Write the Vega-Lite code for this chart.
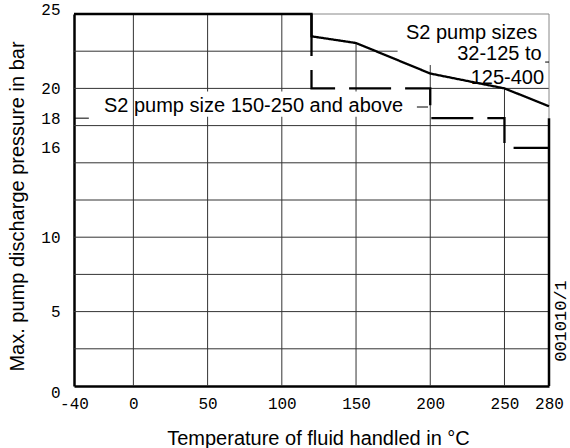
{
  "$schema": "https://vega.github.io/schema/vega-lite/v6.json",
  "autosize": "none",
  "width": 475,
  "height": 372,
  "padding": {"left": 74, "top": 14, "right": 21, "bottom": 62},
  "config": {
    "view": {"stroke": null},
    "axis": {"grid": false},
    "font": "Liberation Sans"
  },
  "datasets": {
    "hgrid": [
      {"y": 2.5, "x": -40, "x2": 280},
      {"y": 5, "x": -40, "x2": 280},
      {"y": 7.5, "x": -40, "x2": 280},
      {"y": 10, "x": -40, "x2": 280},
      {"y": 12.5, "x": -40, "x2": 280},
      {"y": 15, "x": -40, "x2": 280},
      {"y": 17.5, "x": -40, "x2": 280},
      {"y": 20, "x": -40, "x2": 120},
      {"y": 20, "x": 200, "x2": 280},
      {"y": 22.5, "x": -40, "x2": 178}
    ],
    "vgrid": [
      {"x": 0, "y": 0, "y2": 25},
      {"x": 50, "y": 0, "y2": 25},
      {"x": 100, "y": 0, "y2": 25},
      {"x": 150, "y": 0, "y2": 23.05},
      {"x": 200, "y": 0, "y2": 21.57},
      {"x": 250, "y": 0, "y2": 20}
    ],
    "grayTop": [{"y": 25, "x": 120, "x2": 280}],
    "grayRight": [{"x": 280, "y": 18, "y2": 25}],
    "blackRight": [{"x": 280, "y": 0, "y2": 18}],
    "mask": [{"x": 3, "x2": 188, "y": 18.1, "y2": 19.8}],
    "curves": [
      {"series": "S2 pump sizes 32-125 to 125-400", "i": 1, "x": -40, "y": 25},
      {"series": "S2 pump sizes 32-125 to 125-400", "i": 2, "x": 120, "y": 25},
      {"series": "S2 pump sizes 32-125 to 125-400", "i": 3, "x": 120, "y": 23.5},
      {"series": "S2 pump sizes 32-125 to 125-400", "i": 4, "x": 150, "y": 23.05},
      {"series": "S2 pump sizes 32-125 to 125-400", "i": 5, "x": 200, "y": 21.0},
      {"series": "S2 pump sizes 32-125 to 125-400", "i": 6, "x": 250, "y": 20.0},
      {"series": "S2 pump sizes 32-125 to 125-400", "i": 7, "x": 280, "y": 18.8},
      {"series": "S2 pump size 150-250 and above", "i": 1, "x": 120, "y": 25},
      {"series": "S2 pump size 150-250 and above", "i": 2, "x": 120, "y": 20},
      {"series": "S2 pump size 150-250 and above", "i": 3, "x": 200, "y": 20},
      {"series": "S2 pump size 150-250 and above", "i": 4, "x": 200, "y": 18},
      {"series": "S2 pump size 150-250 and above", "i": 5, "x": 250, "y": 18},
      {"series": "S2 pump size 150-250 and above", "i": 6, "x": 250, "y": 16},
      {"series": "S2 pump size 150-250 and above", "i": 7, "x": 280, "y": 16}
    ],
    "leaders": [
      {"y": 18, "x": -40, "x2": -30},
      {"y": 18.75, "x": 191, "x2": 198.5},
      {"y": 21.77, "x": 277.4, "x2": 280}
    ],
    "labelsCenter": [
      {"x": 80.9, "y": 18.39, "label": "S2 pump size 150-250 and above"}
    ],
    "labelsRight": [
      {"x": 272.0, "y": 23.30, "label": "S2 pump sizes"},
      {"x": 275.1, "y": 21.91, "label": "32-125 to"},
      {"x": 276.7, "y": 20.30, "label": "125-400"}
    ],
    "code": [{"x": 288.2, "y": 4.37, "label": "001010/1"}]
  },
  "encoding": {
    "x": {
      "field": "x", "type": "quantitative",
      "scale": {"domain": [-40, 280], "nice": false, "zero": false},
      "axis": {
        "values": [-40, 0, 50, 100, 150, 200, 250, 280],
        "labelExpr": "'' + datum.value",
        "title": "Temperature of fluid handled in °C",
        "titleFont": "Liberation Sans", "titleFontSize": 20, "titleFontWeight": "normal",
        "titleColor": "black", "titleBaseline": "alphabetic",
        "titleX": 244, "titleY": 58, "titleAnchor": "middle",
        "labelFont": "Liberation Mono", "labelFontSize": 16, "labelColor": "black",
        "labelBaseline": "top", "labelPadding": 9, "labelFlush": false, "labelOverlap": false,
        "ticks": false, "domainColor": "black", "domainWidth": 2.5
      }
    },
    "y": {
      "field": "y", "type": "quantitative",
      "scale": {"domain": [0, 25], "nice": false},
      "axis": {
        "values": [0, 5, 10, 16, 18, 20, 25],
        "title": "Max. pump discharge pressure in bar",
        "titleFont": "Liberation Sans", "titleFontSize": 20, "titleFontWeight": "normal",
        "titleColor": "black", "titleBaseline": "alphabetic", "titleAngle": 270,
        "titleX": -51, "titleY": 192, "titleAlign": "center",
        "labelFont": "Liberation Mono", "labelFontSize": 16, "labelColor": "black",
        "labelBaseline": "middle", "labelPadding": 14, "labelFlush": false, "labelOverlap": false,
        "labelOffset": {"condition": [{"test": "datum.value == 0", "value": 6}, {"test": "datum.value == 25", "value": -5}], "value": 0},
        "ticks": false, "domainColor": "black", "domainWidth": 2.5
      }
    }
  },
  "layer": [
    {"data": {"name": "hgrid"}, "mark": {"type": "rule", "color": "#333", "strokeWidth": 1}, "encoding": {"x2": {"field": "x2"}}},
    {"data": {"name": "vgrid"}, "mark": {"type": "rule", "color": "#333", "strokeWidth": 1}, "encoding": {"y2": {"field": "y2"}}},
    {"data": {"name": "grayTop"}, "mark": {"type": "rule", "color": "#888", "strokeWidth": 1}, "encoding": {"x2": {"field": "x2"}}},
    {"data": {"name": "grayRight"}, "mark": {"type": "rule", "color": "#888", "strokeWidth": 1}, "encoding": {"y2": {"field": "y2"}}},
    {"data": {"name": "blackRight"}, "mark": {"type": "rule", "color": "black", "strokeWidth": 2.5}, "encoding": {"y2": {"field": "y2"}}},
    {"data": {"name": "mask"}, "mark": {"type": "rect", "fill": "white"}, "encoding": {"x2": {"field": "x2"}, "y2": {"field": "y2"}}},
    {
      "data": {"name": "curves"},
      "mark": {"type": "line", "color": "black", "strokeWidth": 2.3, "strokeCap": "butt"},
      "encoding": {
        "detail": {"field": "series", "type": "nominal"},
        "order": {"field": "i", "type": "quantitative"},
        "strokeDash": {
          "field": "series", "type": "nominal",
          "scale": {"domain": ["S2 pump sizes 32-125 to 125-400", "S2 pump size 150-250 and above"], "range": [[1, 0], [42, 14]]},
          "legend": null
        }
      }
    },
    {"data": {"name": "leaders"}, "mark": {"type": "rule", "color": "black", "strokeWidth": 1}, "encoding": {"x2": {"field": "x2"}}},
    {
      "data": {"name": "labelsCenter"},
      "mark": {"type": "text", "font": "Liberation Sans", "fontSize": 20, "color": "black", "align": "center", "baseline": "alphabetic"},
      "encoding": {"text": {"field": "label", "type": "nominal"}}
    },
    {
      "data": {"name": "labelsRight"},
      "mark": {"type": "text", "font": "Liberation Sans", "fontSize": 20, "color": "black", "align": "right", "baseline": "alphabetic"},
      "encoding": {"text": {"field": "label", "type": "nominal"}}
    },
    {
      "data": {"name": "code"},
      "mark": {"type": "text", "font": "Liberation Mono", "fontSize": 17, "color": "black", "align": "center", "baseline": "middle", "angle": 270},
      "encoding": {"text": {"field": "label", "type": "nominal"}}
    }
  ]
}
